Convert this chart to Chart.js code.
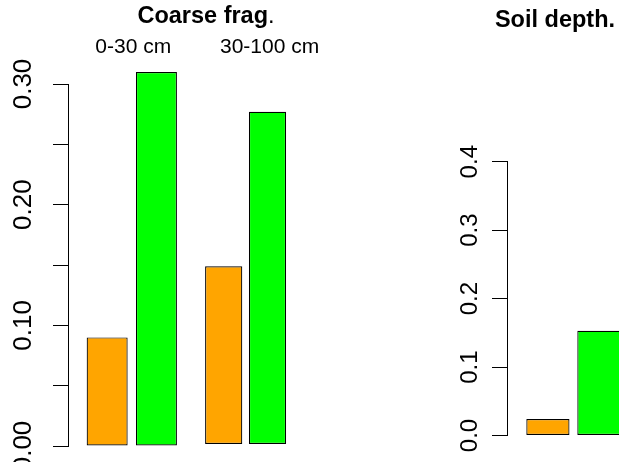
<!DOCTYPE html>
<html>
<head>
<meta charset="utf-8">
<script src="https://cdn.jsdelivr.net/npm/chart.js@4/dist/chart.umd.min.js"></script>
<style>
  html, body { margin: 0; padding: 0; background: #fff; }
  #wrap { position: relative; width: 619px; height: 462px; overflow: hidden; background: #fff; }
  #left { position: absolute; left: 0; top: 0; width: 360px; height: 520px; }
  #right { position: absolute; left: 439px; top: 0; width: 240px; height: 520px; }
</style>
</head>
<body>
<div id="wrap">
  <canvas id="left" width="360" height="520"></canvas>
  <canvas id="right" width="240" height="520"></canvas>
</div>
<script>
// ---------- data ----------
const coarseCategories = ['0-30 cm', '30-100 cm'];
const coarseOrange = [0.090, 0.149];
const coarseGreen  = [0.310, 0.277];
const coarseBase   = [0.000, 0.0017];
const coarseTickLabels = ['0.00', '0.10', '0.20', '0.30'];

const depthCategories = ['Soil depth'];
const depthOrange = [0.024];
const depthGreen  = [0.153];
const depthTickLabels = ['0.0', '0.1', '0.2', '0.3', '0.4'];

// ---------- styles ----------
const FONT = '"Liberation Sans", Arial, Helvetica, sans-serif';
const ORANGE = '#FFA500';
const GREEN = '#00FF00';
const BORDER_W = 1.2;
const groupStyle = [
  { categoryPercentage: 0.866, barPercentage: 0.832 },
  { categoryPercentage: 0.770, barPercentage: 0.849 }
];

const textPlugin = {
  id: 'panelText',
  afterDraw(chart, args, opts) {
    const ctx = chart.ctx;
    ctx.save();
    ctx.fillStyle = '#000';
    ctx.textBaseline = 'alphabetic';
    ctx.textAlign = 'left';
    const items = (opts.items || []).slice();
    if (opts.catLabels) {
      const xs = chart.scales.x;
      opts.catLabels.texts.forEach((t, i) => {
        items.push({ parts: [{ text: t, weight: 'normal' }], size: opts.catLabels.size,
          x: xs.getPixelForValue(i) + opts.catLabels.shift[i], y: opts.catLabels.y });
      });
    }
    for (const item of items) {
      const widths = item.parts.map(p => {
        ctx.font = `${p.weight} ${item.size}px ${FONT}`;
        return ctx.measureText(p.text).width;
      });
      const total = widths.reduce((a, b) => a + b, 0);
      let x = item.x - total / 2;
      item.parts.forEach((p, i) => {
        ctx.font = `${p.weight} ${item.size}px ${FONT}`;
        ctx.fillText(p.text, x, item.y);
        x += widths[i];
      });
    }
    ctx.restore();
  }
};

function yAxis(max, step, labels, digits, fontSize, pad) {
  return {
    min: 0, max: max,
    afterFit(scale) { scale.width = 68; },
    border: { display: true, color: '#000', width: 1 },
    grid: { drawOnChartArea: false, drawTicks: true, tickLength: 15, color: '#000', lineWidth: 1 },
    ticks: {
      stepSize: step, autoSkip: false, minRotation: 90, maxRotation: 90,
      crossAlign: 'center', padding: pad, color: '#000',
      font: { family: FONT, size: fontSize },
      callback: (v) => { const s = Number(v).toFixed(digits); return labels.includes(s) ? s : ''; }
    }
  };
}

function barDs(values, base, color, groupIndex, nGroups, style) {
  const data = [];
  for (let i = 0; i < nGroups; i++) {
    if (i === groupIndex) {
      data.push({ x: i, y: base ? [base[i], values[i]] : values[i] });
    } else {
      data.push({ x: i, y: null });
    }
  }
  return Object.assign({
    data, backgroundColor: color, borderColor: '#000', borderWidth: BORDER_W,
    borderSkipped: false, clip: false, skipNull: true
  }, style);
}

// ---------- left panel: Coarse frag. ----------
const leftDatasets = [];
coarseCategories.forEach((c, g) => {
  leftDatasets.push(barDs(coarseOrange, coarseBase, ORANGE, g, coarseCategories.length, groupStyle[g]));
  leftDatasets.push(barDs(coarseGreen, coarseBase, GREEN, g, coarseCategories.length, groupStyle[g]));
});

new Chart(document.getElementById('left'), {
  type: 'bar',
  data: { datasets: leftDatasets },
  options: {
    responsive: false, animation: false, devicePixelRatio: 1,
    layout: { padding: { left: 0, top: 84, right: 20, bottom: 74 } },
    scales: {
      x: {
        type: 'linear', min: -0.5606, max: 1.8295, offset: false, display: false,
        afterBuildTicks(scale) { scale.ticks = coarseCategories.map((c, i) => ({ value: i })); }
      },
      y: yAxis(0.30, 0.05, coarseTickLabels, 2, 26, 3.7)
    },
    plugins: {
      legend: { display: false }, tooltip: { enabled: false }, title: { display: false },
      panelText: {
        items: [{ parts: [{ text: 'Coarse frag', weight: 'bold' }, { text: '.', weight: 'normal' }], size: 23.5, x: 206, y: 22.5 }],
        catLabels: { texts: coarseCategories, size: 21, shift: [1.5, 24], y: 53.3 }
      }
    }
  },
  plugins: [textPlugin]
});

// ---------- right panel: Soil depth. ----------
new Chart(document.getElementById('right'), {
  type: 'bar',
  data: {
    labels: depthCategories,
    datasets: [
      { data: depthOrange, backgroundColor: ORANGE, borderColor: '#000', borderWidth: BORDER_W, borderSkipped: false, clip: false,
        categoryPercentage: 0.768, barPercentage: 0.847 },
      { data: depthGreen, backgroundColor: GREEN, borderColor: '#000', borderWidth: BORDER_W, borderSkipped: false, clip: false,
        categoryPercentage: 0.768, barPercentage: 0.847 }
    ]
  },
  options: {
    responsive: false, animation: false, devicePixelRatio: 1,
    layout: { padding: { left: 0, top: 161.7, right: 39.2, bottom: 84.5 } },
    scales: {
      x: { type: 'category', offset: true, display: false },
      y: yAxis(0.4, 0.1, depthTickLabels, 1, 24, 4.5)
    },
    plugins: {
      legend: { display: false }, tooltip: { enabled: false }, title: { display: false },
      panelText: {
        items: [{ parts: [{ text: 'Soil depth.', weight: 'bold' }], size: 23.5, x: 116, y: 26.7 }]
      }
    }
  },
  plugins: [textPlugin]
});
</script>
</body>
</html>
